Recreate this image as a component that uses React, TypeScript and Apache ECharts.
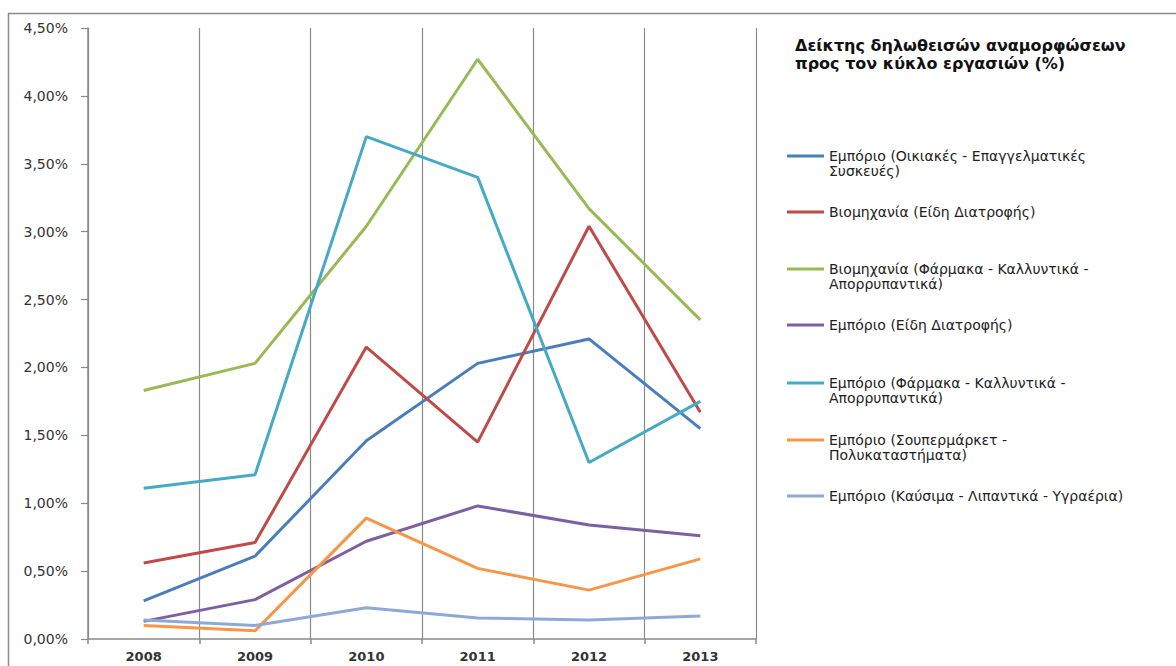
import React, { useEffect, useRef } from "react";
import * as echarts from "echarts";

const years = ["2008", "2009", "2010", "2011", "2012", "2013"];

const seriesNames = [
  "Εμπόριο (Οικιακές - Επαγγελματικές Συσκευές)",
  "Βιομηχανία (Είδη Διατροφής)",
  "Βιομηχανία (Φάρμακα - Καλλυντικά - Απορρυπαντικά)",
  "Εμπόριο (Είδη Διατροφής)",
  "Εμπόριο (Φάρμακα - Καλλυντικά - Απορρυπαντικά)",
  "Εμπόριο (Σουπερμάρκετ - Πολυκαταστήματα)",
  "Εμπόριο (Καύσιμα - Λιπαντικά - Υγραέρια)",
];

const legendLabels = [
  "Εμπόριο (Οικιακές - Επαγγελματικές\nΣυσκευές)",
  "Βιομηχανία (Είδη Διατροφής)",
  "Βιομηχανία (Φάρμακα - Καλλυντικά -\nΑπορρυπαντικά)",
  "Εμπόριο (Είδη Διατροφής)",
  "Εμπόριο (Φάρμακα - Καλλυντικά -\nΑπορρυπαντικά)",
  "Εμπόριο (Σουπερμάρκετ -\nΠολυκαταστήματα)",
  "Εμπόριο (Καύσιμα - Λιπαντικά - Υγραέρια)",
];

const emporioOikiakes = [0.28, 0.61, 1.46, 2.03, 2.21, 1.55];
const viomichaniaTrofima = [0.56, 0.71, 2.15, 1.45, 3.04, 1.67];
const viomichaniaFarmaka = [1.83, 2.03, 3.04, 4.27, 3.17, 2.35];
const emporioTrofima = [0.13, 0.29, 0.72, 0.98, 0.84, 0.76];
const emporioFarmaka = [1.11, 1.21, 3.7, 3.4, 1.3, 1.75];
const emporioSuper = [0.1, 0.06, 0.89, 0.52, 0.36, 0.59];
const emporioKafsima = [0.14, 0.1, 0.23, 0.155, 0.14, 0.17];

const seriesData = [
  emporioOikiakes,
  viomichaniaTrofima,
  viomichaniaFarmaka,
  emporioTrofima,
  emporioFarmaka,
  emporioSuper,
  emporioKafsima,
];

const colors = ["#4A7EBB", "#BE4B48", "#98B954", "#7D60A0", "#46AAC5", "#F79646", "#8EA9D6"];

const legendCenters = [156, 212, 269, 325, 383, 440, 496];

export default function App() {
  const ref = useRef<HTMLDivElement>(null);

  useEffect(() => {
    if (!ref.current) return;
    const chart = echarts.init(ref.current, undefined, { renderer: "svg" });
    const font = "DejaVu Sans";
    const lh = 15;

    const legends = seriesNames.map((name, i) => {
      const twoLine = legendLabels[i].includes("\n");
      return {
        data: [name],
        left: 787,
        top: twoLine ? legendCenters[i] - 1.5 * lh : legendCenters[i] - 0.5 * lh,
        orient: "vertical",
        padding: 0,
        icon: "rect",
        itemWidth: 37,
        itemHeight: 3,
        selectedMode: false,
        formatter: () => (twoLine ? " \n" + legendLabels[i] : legendLabels[i]),
        textStyle: {
          fontFamily: font,
          fontSize: 14,
          color: "#222",
          lineHeight: lh,
        },
      };
    });

    chart.setOption({
      animation: false,
      color: colors,
      title: {
        text: "Δείκτης δηλωθεισών αναμορφώσεων\nπρος τον κύκλο εργασιών (%)",
        left: 795,
        top: 36,
        padding: 0,
        textStyle: {
          fontFamily: font,
          fontSize: 16,
          fontWeight: "bold",
          color: "#111",
          lineHeight: 18,
        },
      },
      legend: legends,
      grid: { left: 88, right: 420, top: 28, bottom: 27, containLabel: false },
      xAxis: {
        type: "category",
        data: years,
        boundaryGap: true,
        axisLine: { show: true, lineStyle: { color: "#8a8a8a", width: 1.5 } },
        axisTick: { show: true, length: 5, lineStyle: { color: "#8a8a8a", width: 1.5 } },
        splitLine: { show: true, lineStyle: { color: "#8a8a8a", width: 1.2 } },
        axisLabel: {
          margin: 11,
          fontFamily: font,
          fontSize: 13,
          fontWeight: "bold",
          color: "#333",
        },
      },
      yAxis: {
        type: "value",
        min: 0,
        max: 4.5,
        interval: 0.5,
        axisLine: { show: true, lineStyle: { color: "#8a8a8a", width: 1.5 } },
        axisTick: { show: true, length: 7, lineStyle: { color: "#8a8a8a", width: 1.2 } },
        splitLine: { show: false },
        axisLabel: {
          margin: 20,
          fontFamily: font,
          fontSize: 14,
          color: "#333",
          formatter: (v: number) => v.toFixed(2).replace(".", ",") + "%",
        },
      },
      graphic: [
        {
          type: "line",
          shape: { x1: 8, y1: 13.5, x2: 1176, y2: 13.5 },
          style: { stroke: "#8a8a8a", lineWidth: 1.5 },
        },
        {
          type: "line",
          shape: { x1: 8.5, y1: 13, x2: 8.5, y2: 666 },
          style: { stroke: "#8a8a8a", lineWidth: 1.5 },
        },
      ],
      series: seriesNames.map((name, i) => ({
        name,
        type: "line",
        data: seriesData[i],
        symbol: "none",
        lineStyle: { width: 3, color: colors[i] },
        itemStyle: { color: colors[i] },
      })),
    });

    return () => chart.dispose();
  }, []);

  return (
    <div
      ref={ref}
      style={{ position: "fixed", left: 0, top: 0, width: 1176, height: 666, background: "#fff" }}
    />
  );
}
